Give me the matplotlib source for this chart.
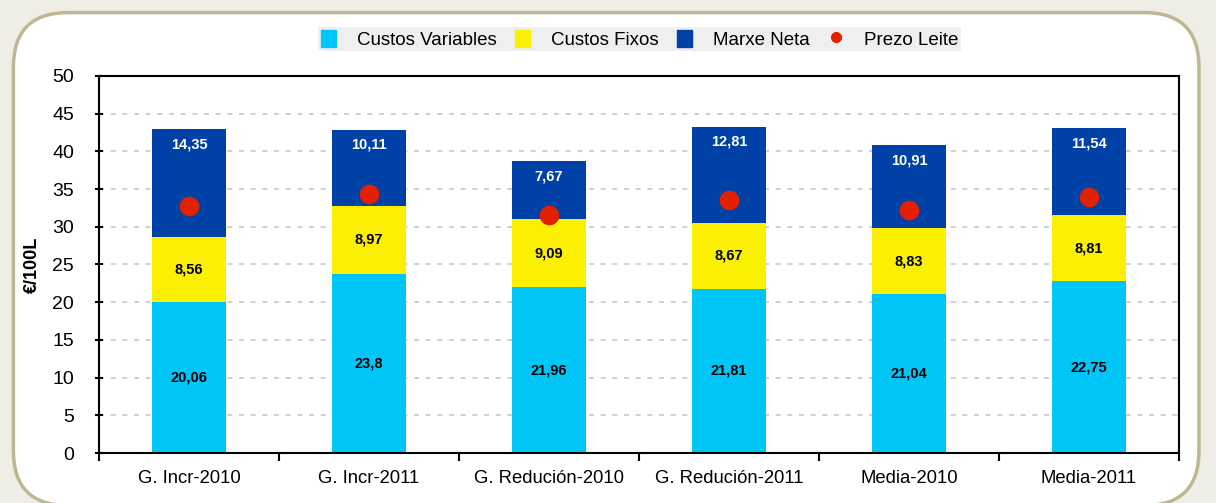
import matplotlib.pyplot as plt
from matplotlib.patches import FancyBboxPatch, Patch
from matplotlib.lines import Line2D
import numpy as np

plt.rcParams['font.family'] = ['Liberation Sans', 'DejaVu Sans']

categorias = ["G. Incr-2010", "G. Incr-2011", "G. Redución-2010",
              "G. Redución-2011", "Media-2010", "Media-2011"]
custos_variables = [20.06, 23.8, 21.96, 21.81, 21.04, 22.75]
custos_fixos = [8.56, 8.97, 9.09, 8.67, 8.83, 8.81]
marxe_neta = [14.35, 10.11, 7.67, 12.81, 10.91, 11.54]
prezo_leite = [32.8, 34.3, 31.6, 33.5, 32.2, 34.0]

c_var = "#00c5f7"
c_fix = "#fbf000"
c_mar = "#0041a8"
c_prezo = "#e02000"

fig = plt.figure(figsize=(12.16, 5.03), dpi=100)
fig.patch.set_facecolor("#efeee6")

# marco redondeado
marco = FancyBboxPatch((0.011, -0.005), 0.975, 0.98,
                       boxstyle="round,pad=0,rounding_size=0.045",
                       transform=fig.transFigure, facecolor="white",
                       edgecolor="#bdb890", linewidth=2.5, zorder=-5,
                       mutation_aspect=1216 / 503)
fig.patches.append(marco)

ax = fig.add_axes([0.0814, 0.0994, 0.8882, 0.7496])
ax.set_facecolor("none")
ax.set_zorder(2)

x = np.arange(len(categorias))
w = 0.41
v = np.array(custos_variables)
f = np.array(custos_fixos)
m = np.array(marxe_neta)

ax.bar(x, v, w, color=c_var, zorder=2)
ax.bar(x, f, w, bottom=v, color=c_fix, zorder=2)
ax.bar(x, m, w, bottom=v + f, color=c_mar, zorder=2)
ax.scatter(x, prezo_leite, s=200, color=c_prezo, zorder=3, linewidths=0)

def fmt(val):
    return f"{val:g}".replace(".", ",")

for i in range(len(x)):
    ax.text(x[i], v[i] / 2, fmt(v[i]), ha="center", va="center",
            fontsize=10.5, fontweight="bold", color="black", zorder=4)
    ax.text(x[i], v[i] + f[i] / 2, fmt(f[i]), ha="center", va="center",
            fontsize=10.5, fontweight="bold", color="black", zorder=4)
    ax.text(x[i], v[i] + f[i] + m[i] - 2.0, fmt(m[i]), ha="center", va="center",
            fontsize=10.5, fontweight="bold", color="white", zorder=4)

ax.set_xlim(-0.5, len(x) - 0.5)
ax.set_ylim(0, 50)
ax.set_yticks(np.arange(0, 51, 5))
ax.set_xticks(x)
ax.set_xticklabels(categorias, fontsize=13.3)
ax.set_xticks(np.arange(-0.5, len(x)), minor=True)
ax.tick_params(axis="x", which="major", length=0, pad=12)
ax.tick_params(axis="x", which="minor", length=6, width=1.5, direction="out")
ax.tick_params(axis="y", length=6, width=1.5, direction="inout", labelsize=14, pad=15)
ax.yaxis.grid(True, linestyle=(0, (3, 4)), color="#c8c8c8", linewidth=1.2, zorder=1)
ax.set_axisbelow(True)
for s in ax.spines.values():
    s.set_linewidth(1.5)
ax.set_ylabel("€/100L", fontsize=13, fontweight="bold")
ax.yaxis.set_label_coords(-0.054, 0.5)

handles = [Patch(color=c_var), Patch(color=c_fix), Patch(color=c_mar),
           Line2D([], [], marker="o", color=c_prezo, linestyle="none", markersize=7)]
labels = ["Custos Variables", "Custos Fixos", "Marxe Neta", "Prezo Leite"]
leg = fig.legend(handles, labels, loc="center", bbox_to_anchor=(0.526, 0.922),
                 ncol=4, fontsize=13.5, frameon=True, fancybox=False,
                 handlelength=0.8, handleheight=1.0, handletextpad=1.1,
                 columnspacing=1.0, borderpad=0.15, borderaxespad=0)
leg.get_frame().set_facecolor("#ebebeb")
leg.get_frame().set_edgecolor("none")

fig.savefig("out.png", dpi=100, facecolor=fig.get_facecolor())
